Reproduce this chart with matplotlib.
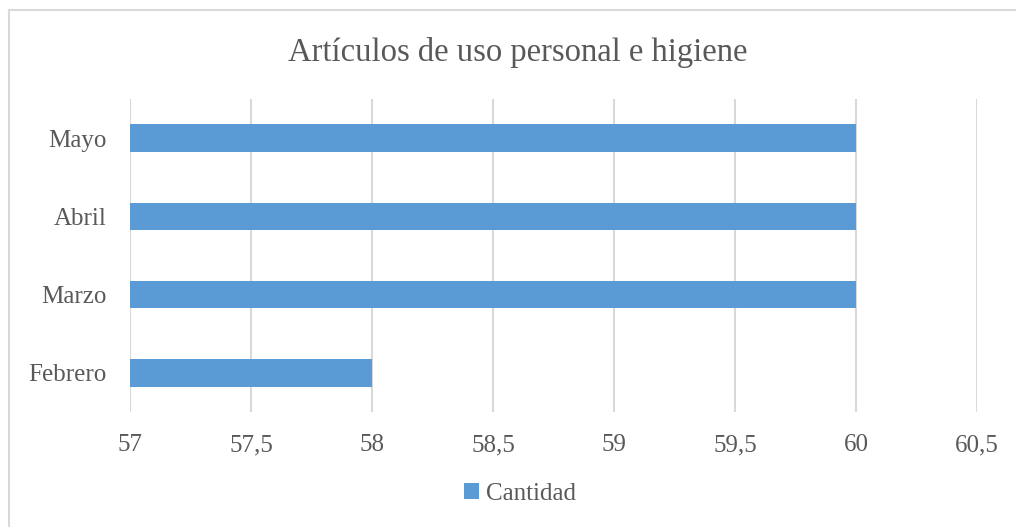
import matplotlib.pyplot as plt
from matplotlib.lines import Line2D
from matplotlib.ticker import FuncFormatter

months = ["Febrero", "Marzo", "Abril", "Mayo"]
cantidad = [58, 60, 60, 60]
x_ticks = [57, 57.5, 58, 58.5, 59, 59.5, 60, 60.5]

text_color = "#595959"
grid_color = "#d9d9d9"
bar_color = "#5b9bd5"

plt.rcParams["font.family"] = ["Liberation Serif", "DejaVu Serif"]

fig = plt.figure(figsize=(10.16, 5.27), dpi=100)
ax = fig.add_axes([130 / 1016, 1 - 412 / 527, 847 / 1016, 313 / 527])

# bars start at the axis minimum, like the spreadsheet chart
ax.barh(range(len(months)), [v - 57 for v in cantidad], left=57, height=0.35,
        color=bar_color, label="Cantidad")

ax.set_xlim(57, 60.5)
ax.set_ylim(-0.5, len(months) - 0.5)
ax.set_xticks(x_ticks)
ax.xaxis.set_major_formatter(FuncFormatter(lambda v, p: f"{v:g}".replace(".", ",")))
ax.set_yticks(range(len(months)))
ax.set_yticklabels(months)

ax.grid(axis="x", color=grid_color, linewidth=1.5)
ax.set_axisbelow(True)
for s in ax.spines.values():
    s.set_visible(False)
ax.tick_params(length=0, labelsize=18, colors=text_color)
ax.tick_params(axis="x", pad=16)
ax.tick_params(axis="y", pad=17)

fig.text(518 / 1016, 1 - 52 / 527, "Artículos de uso personal e higiene",
         ha="center", va="center", fontsize=23.5, color=text_color)

fig.legend(loc="center", bbox_to_anchor=(520 / 1016, 1 - 494 / 527), frameon=False,
           fontsize=18, labelcolor=text_color, handlelength=0.6, handleheight=0.6,
           handletextpad=0.25)

# chart border (left and top visible in the reference)
fig.add_artist(Line2D([8.5 / 1016, 8.5 / 1016], [0, 1 - 10 / 527], color=grid_color, linewidth=1.5))
fig.add_artist(Line2D([8.5 / 1016, 1], [1 - 10 / 527, 1 - 10 / 527], color=grid_color, linewidth=1.5))

fig.savefig("out.png", dpi=100, facecolor="white")
